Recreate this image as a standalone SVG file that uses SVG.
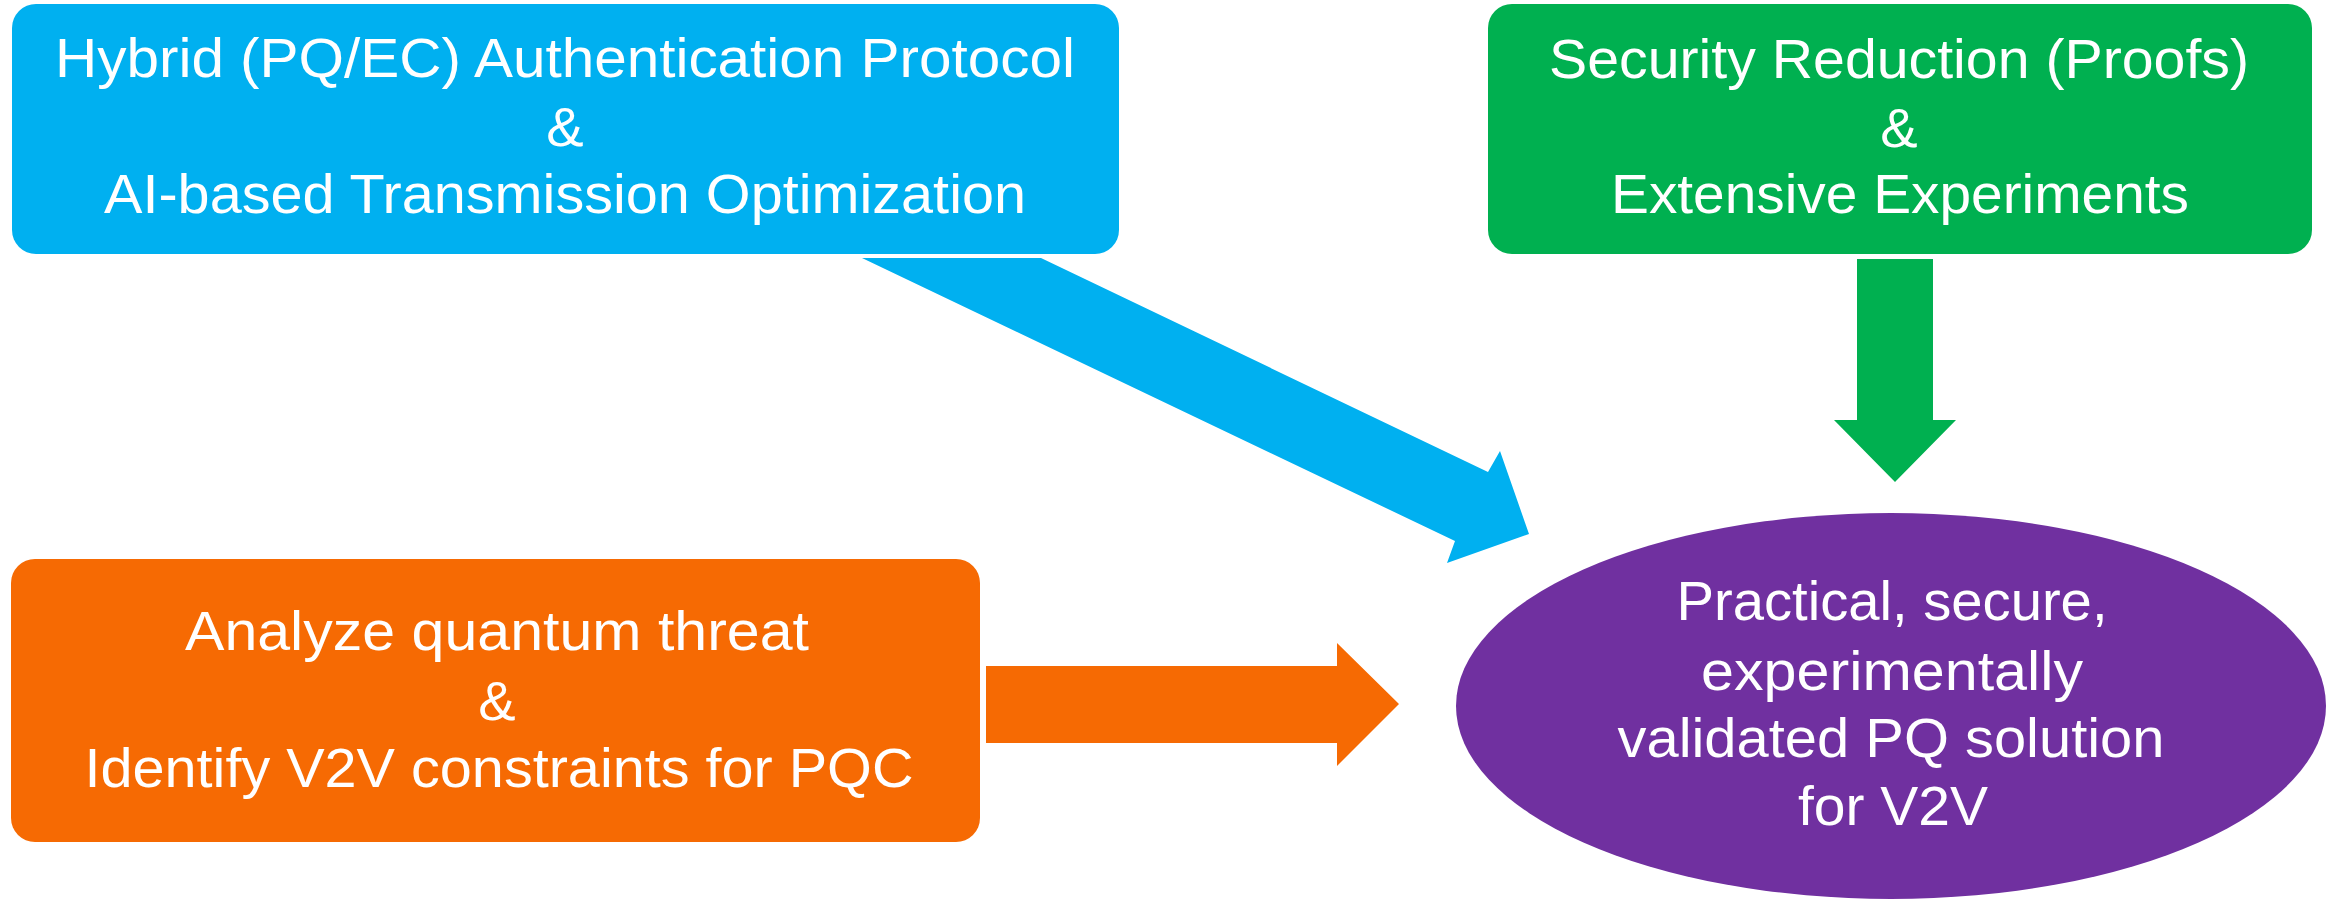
<svg xmlns="http://www.w3.org/2000/svg" width="2339" height="900" viewBox="0 0 2339 900">
<style>
.t{font-family:"Liberation Sans",Arial,sans-serif;font-size:56px;fill:#ffffff;text-anchor:middle}
</style>
<rect width="2339" height="900" fill="#ffffff"/>
<g id="connectors">
<polygon id="arrow-blue" fill="#00B0F0" points="862,258 1041,258 1488,472 1500,451 1529,534 1447,563 1455,541"/>
<polygon id="arrow-green" fill="#00B050" points="1857,259 1933,259 1933,420 1956,420 1895,482 1834,420 1857,420"/>
<polygon id="arrow-orange" fill="#F66A03" points="986,666 1337,666 1337,643 1399,704 1337,766 1337,743 986,743"/>
</g>
<g id="node-hybrid">
<rect x="12" y="4" width="1107" height="250" rx="24" fill="#00B0F0"/>
<text class="t" x="565" y="77" textLength="1020" lengthAdjust="spacingAndGlyphs">Hybrid (PQ/EC) Authentication Protocol</text>
<text class="t" x="565" y="146">&amp;</text>
<text class="t" x="565" y="213" textLength="922" lengthAdjust="spacingAndGlyphs">AI-based Transmission Optimization</text>
</g>
<g id="node-security">
<rect x="1488" y="4" width="824" height="250" rx="24" fill="#00B050"/>
<text class="t" x="1899" y="78" textLength="700" lengthAdjust="spacingAndGlyphs">Security Reduction (Proofs)</text>
<text class="t" x="1899" y="147">&amp;</text>
<text class="t" x="1900" y="213" textLength="578" lengthAdjust="spacingAndGlyphs">Extensive Experiments</text>
</g>
<g id="node-analyze">
<rect x="11" y="559" width="969" height="283" rx="24" fill="#F66A03"/>
<text class="t" x="497" y="650" textLength="624" lengthAdjust="spacingAndGlyphs">Analyze quantum threat</text>
<text class="t" x="497" y="720">&amp;</text>
<text class="t" x="499" y="787" textLength="829" lengthAdjust="spacingAndGlyphs">Identify V2V constraints for PQC</text>
</g>
<g id="node-solution">
<ellipse cx="1891" cy="706" rx="435" ry="193" fill="#7030A0"/>
<text class="t" x="1892" y="620" textLength="431" lengthAdjust="spacingAndGlyphs">Practical, secure,</text>
<text class="t" x="1892" y="690" textLength="382" lengthAdjust="spacingAndGlyphs">experimentally</text>
<text class="t" x="1891" y="757" textLength="547" lengthAdjust="spacingAndGlyphs">validated PQ solution</text>
<text class="t" x="1893" y="825" textLength="190" lengthAdjust="spacingAndGlyphs">for V2V</text>
</g>
</svg>
